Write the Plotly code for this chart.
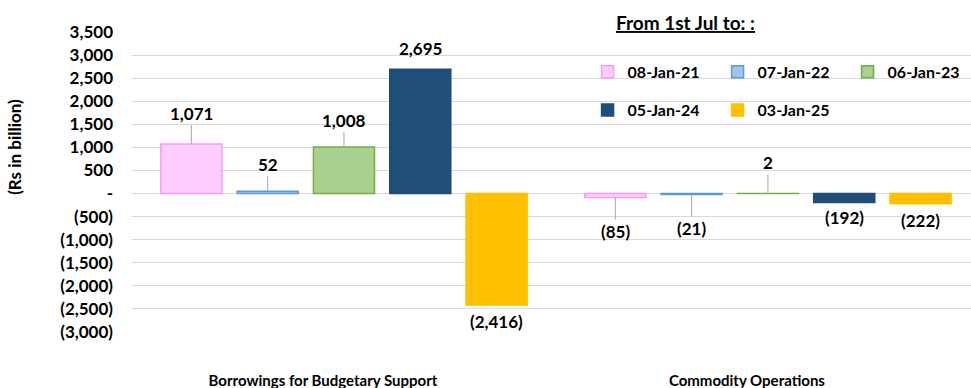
import plotly.graph_objects as go

# ---------------- data ----------------
categories = ["Borrowings for Budgetary Support", "Commodity Operations"]
series_names = ["08-Jan-21", "07-Jan-22", "06-Jan-23", "05-Jan-24", "03-Jan-25"]
jan21 = [1071, -85]
jan22 = [52, -21]
jan23 = [1008, 2]
jan24 = [2695, -192]
jan25 = [-2416, -222]
series_values = [jan21, jan22, jan23, jan24, jan25]
y_ticks = list(range(-3000, 3501, 500))

# ---------------- styles ----------------
fills = ["#FFCCFF", "#9DC3E6", "#A9D18E", "#1F4E79", "#FFC000"]
borders = ["#F59CF5", "#5B9BD5", "#70AD47", "#1F4E79", "#FFC000"]
# label offset in px (negative = above), and whether a leader line is drawn
label_offsets = [[-31, 34], [-27, 34], [-27, -31], [-21, 15], [16, 17]]
leader = [[True, True], [True, True], [True, True], [False, False], [False, False]]
legend_ids = ["legend", "legend", "legend", "legend2", "legend2"]

n = len(series_names)
bargap = 0.1
slot = (1 - bargap) / n
bar_w = slot * 0.8
FONT = "Lato"


def fmt(v):
    if v == 0:
        return "-"
    if v < 0:
        return f"({abs(v):,})"
    return f"{v:,}"


fig = go.Figure()
annotations = []
for j, (name, vals) in enumerate(zip(series_names, series_values)):
    xs = [i + (j - (n - 1) / 2) * slot for i in range(len(categories))]
    fig.add_trace(go.Bar(
        x=xs, y=vals, width=bar_w, name=name, legend=legend_ids[j],
        marker=dict(color=fills[j], line=dict(color=borders[j], width=1.5)),
        hoverinfo="y+name",
    ))
    for i, (x, v) in enumerate(zip(xs, vals)):
        off = label_offsets[j][i]
        if leader[j][i]:
            annotations.append(dict(
                x=x, y=v, xref="x", yref="y", text=f"<b>{fmt(v)}</b>",
                showarrow=True, ax=0, ay=off, arrowhead=0, arrowwidth=1,
                arrowcolor="#A6A6A6", standoff=0,
                font=dict(family=FONT, size=17, color="black"),
            ))
        else:
            annotations.append(dict(
                x=x, y=v, xref="x", yref="y", text=f"<b>{fmt(v)}</b>",
                showarrow=False, yshift=-off, yanchor="middle",
                font=dict(family=FONT, size=17, color="black"),
            ))

annotations.append(dict(
    x=-0.1395, y=0.617, xref="paper", yref="paper", text="<b>(Rs in billion)</b>",
    textangle=-90, showarrow=False, xanchor="center", yanchor="middle",
    font=dict(family=FONT, size=17, color="black"),
))
annotations.append(dict(
    x=0.574, y=1.033, xref="paper", yref="paper", text="<b><u>From 1st Jul to: :</u></b>",
    showarrow=False, xanchor="left", yanchor="middle",
    font=dict(family=FONT, size=19, color="black"),
))

legend_common = dict(
    orientation="h", xanchor="left", yanchor="middle",
    font=dict(family=FONT, size=16, color="black", weight=700),
    entrywidth=85, entrywidthmode="pixels", bgcolor="rgba(0,0,0,0)",
    itemwidth=30,
)

fig.update_layout(
    width=971, height=388,
    margin=dict(l=132, r=0, t=32, b=56, autoexpand=False),
    paper_bgcolor="white", plot_bgcolor="white",
    barmode="overlay",
    showlegend=True,
    legend=dict(x=0.543, y=0.867, **legend_common),
    legend2=dict(x=0.543, y=0.74, **legend_common),
    annotations=annotations,
    font=dict(family=FONT, color="black"),
    xaxis=dict(
        range=[-0.5, 1.479], tickvals=list(range(len(categories))),
        ticktext=[f"<b>{c}</b>" for c in categories],
        showgrid=False, zeroline=False, showline=False, ticks="",
        tickfont=dict(family=FONT, size=15, color="black"),
        ticklabelstandoff=38, ticklabelshift=-21, automargin=False,
    ),
    yaxis=dict(
        range=[-3000, 3500], tickvals=y_ticks, ticktext=[f"<b>{fmt(v)}</b>" for v in y_ticks],
        showgrid=True, gridcolor="#D9D9D9", gridwidth=1,
        zeroline=True, zerolinecolor="#D9D9D9", zerolinewidth=1,
        showline=False, ticks="",
        tickfont=dict(family=FONT, size=17, color="black"),
        ticklabelstandoff=18, automargin=False,
    ),
)

fig.write_html("out.html")
